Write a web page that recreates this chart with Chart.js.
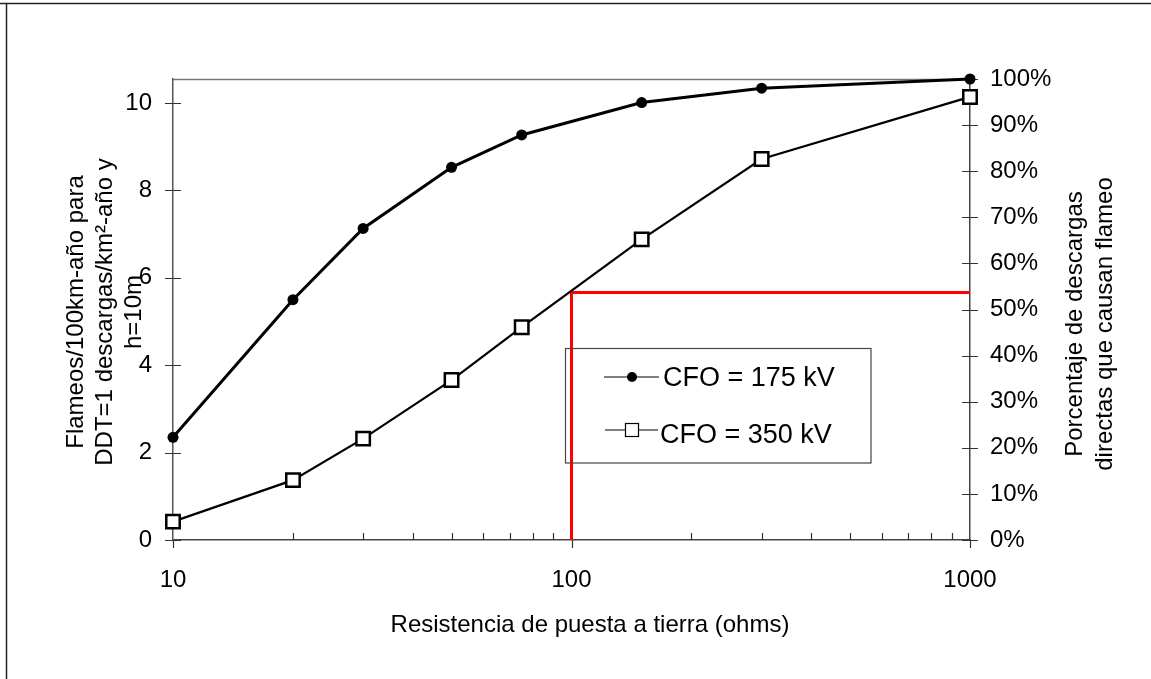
<!DOCTYPE html>
<html><head><meta charset="utf-8">
<script src="https://cdn.jsdelivr.net/npm/chart.js@4.4.1/dist/chart.umd.min.js"></script>
<style>html,body{margin:0;padding:0;background:#fff;overflow:hidden}#wrap{width:1151px;height:679px;position:relative}canvas{display:block}</style>
</head><body><div id="wrap"><canvas id="c" width="1151" height="679"></canvas></div>
<script>
const resistance = [10, 20, 30, 50, 75, 150, 300, 1000];
const cfo175 = [2.35, 5.50, 7.13, 8.53, 9.27, 10.01, 10.34, 10.55];
const cfo350 = [0.42, 1.37, 2.32, 3.66, 4.87, 6.88, 8.72, 10.14];
const refX = [100, 100, 1000];
const refPct = [0, 53.7, 53.7];
const xTicks = [10, 100, 1000];
const xMinorTicks = [20, 30, 40, 50, 60, 70, 80, 90, 200, 300, 400, 500, 600, 700, 800, 900];
const leftTicks = [0, 2, 4, 6, 8, 10];
const rightTicks = [0, 10, 20, 30, 40, 50, 60, 70, 80, 90, 100];
const leftTitle = ['Flameos/100km-año para', 'DDT=1 descargas/km²-año y', 'h=10m'];
const rightTitle = ['Porcentaje de descargas', 'directas que causan flameo'];
const xTitle = 'Resistencia de puesta a tierra (ohms)';
const legendLabels = ['CFO = 175 kV', 'CFO = 350 kV'];

const FONT = "'Liberation Sans', Arial, sans-serif";

const decor = {
  id: 'decor',
  beforeDatasetsDraw(chart) {
    const {ctx, chartArea: a, scales} = chart;
    ctx.save();
    // top border
    ctx.strokeStyle = '#777'; ctx.lineWidth = 1.5;
    ctx.beginPath(); ctx.moveTo(a.left, a.top + 0.5); ctx.lineTo(a.right, a.top + 0.5); ctx.stroke();
    ctx.strokeStyle = '#333'; ctx.lineWidth = 1.2;
    ctx.beginPath();
    leftTicks.forEach(v => { const p = Math.round(scales.y.getPixelForValue(v)) + 0.5; ctx.moveTo(a.left - 8, p); ctx.lineTo(a.left + 8, p); });
    rightTicks.forEach(v => { const p = Math.round(scales.y1.getPixelForValue(v)) + 0.5; ctx.moveTo(a.right - 8, p); ctx.lineTo(a.right + 8, p); });
    xMinorTicks.forEach(v => { const p = Math.round(scales.x.getPixelForValue(v)) + 0.5; ctx.moveTo(p, a.bottom); ctx.lineTo(p, a.bottom - 7); });
    xTicks.forEach(v => { const p = Math.round(scales.x.getPixelForValue(v)) + 0.5; ctx.moveTo(p, a.bottom); ctx.lineTo(p, a.bottom + 8); });
    ctx.stroke();
    ctx.restore();
  },
  afterDraw(chart) {
    const {ctx} = chart;
    ctx.save();
    // outer frame (top and left)
    ctx.strokeStyle = '#222'; ctx.lineWidth = 1.5;
    ctx.beginPath(); ctx.moveTo(0, 3.5); ctx.lineTo(1151, 3.5); ctx.moveTo(6.5, 3); ctx.lineTo(6.5, 679); ctx.stroke();

    // legend
    ctx.strokeStyle = '#444'; ctx.lineWidth = 1.2;
    ctx.strokeRect(565.5, 348.5, 305.5, 114.5);
    ctx.strokeStyle = '#000'; ctx.lineWidth = 1.2;
    ctx.beginPath(); ctx.moveTo(604, 377); ctx.lineTo(659, 377); ctx.moveTo(605, 430); ctx.lineTo(658, 430); ctx.stroke();
    ctx.fillStyle = '#000';
    ctx.beginPath(); ctx.arc(632, 377, 5, 0, Math.PI * 2); ctx.fill();
    ctx.fillStyle = '#fff'; ctx.fillRect(625, 423, 14, 14);
    ctx.strokeRect(625.5, 423.5, 13, 13);
    ctx.fillStyle = '#000';
    ctx.font = '27px ' + FONT; ctx.textAlign = 'left'; ctx.textBaseline = 'alphabetic';
    ctx.fillText(legendLabels[0], 663, 386);
    ctx.fillText(legendLabels[1], 660, 443);

    // titles
    ctx.font = '24px ' + FONT; ctx.textAlign = 'center';
    const rot = (t, x, y) => { ctx.save(); ctx.translate(x, y); ctx.rotate(-Math.PI / 2); ctx.fillText(t, 0, 0); ctx.restore(); };
    [83, 112, 141].forEach((x, i) => rot(leftTitle[i], x, 312));
    [1082, 1112].forEach((x, i) => rot(rightTitle[i], x, 324));
    ctx.fillText(xTitle, 590, 632);
    ctx.restore();
  }
};

const tickFont = {family: FONT, size: 24};
new Chart(document.getElementById('c'), {
  type: 'line',
  data: {
    datasets: [
      {label: 'ref', data: refX.map((x, i) => ({x, y: refPct[i]})), yAxisID: 'y1', borderColor: '#ff0000', borderWidth: 3, pointRadius: 0, tension: 0, clip: false, order: 3},
      {label: legendLabels[1], data: resistance.map((x, i) => ({x, y: cfo350[i]})), yAxisID: 'y', borderColor: '#000', borderWidth: 2.2, pointStyle: 'rect', pointRadius: 9.5, pointBackgroundColor: '#fff', pointBorderColor: '#000', pointBorderWidth: 2.5, tension: 0, clip: false, order: 2},
      {label: legendLabels[0], data: resistance.map((x, i) => ({x, y: cfo175[i]})), yAxisID: 'y', borderColor: '#000', borderWidth: 3, pointStyle: 'circle', pointRadius: 5.5, pointBackgroundColor: '#000', pointBorderColor: '#000', pointBorderWidth: 0, tension: 0, clip: false, order: 1}
    ]
  },
  options: {
    responsive: false, animation: false, devicePixelRatio: 1,
    layout: {padding: {top: 79, left: 0, right: 0, bottom: 0}},
    plugins: {legend: {display: false}, tooltip: {enabled: false}},
    scales: {
      x: {
        type: 'logarithmic', position: 'bottom', min: 10, max: 1000,
        afterBuildTicks(s) { s.ticks = xTicks.map(v => ({value: v, major: true})); },
        afterFit(s) { s.height = 139; },
        grid: {display: false, drawTicks: true, tickLength: 8},
        border: {display: true, color: '#444', width: 1.5},
        ticks: {font: tickFont, color: '#000', padding: 18, autoSkip: false, maxRotation: 0, minRotation: 0, callback: v => String(v)}
      },
      y: {
        type: 'linear', position: 'left', min: 0, max: 10.55,
        afterBuildTicks(s) { s.ticks = leftTicks.map(v => ({value: v})); },
        afterFit(s) { s.width = 173; },
        grid: {display: false, drawTicks: true, tickLength: 8},
        border: {display: true, color: '#555', width: 1.5},
        ticks: {font: tickFont, color: '#000', padding: 13, callback: v => String(v)}
      },
      y1: {
        type: 'linear', position: 'right', min: 0, max: 100,
        afterBuildTicks(s) { s.ticks = rightTicks.map(v => ({value: v})); },
        afterFit(s) { s.width = 181; },
        grid: {display: false, drawTicks: true, tickLength: 8},
        border: {display: true, color: '#444', width: 1.5},
        ticks: {font: tickFont, color: '#000', padding: 12, callback: v => v + '%'}
      }
    }
  },
  plugins: [decor]
});
</script>
</body></html>
